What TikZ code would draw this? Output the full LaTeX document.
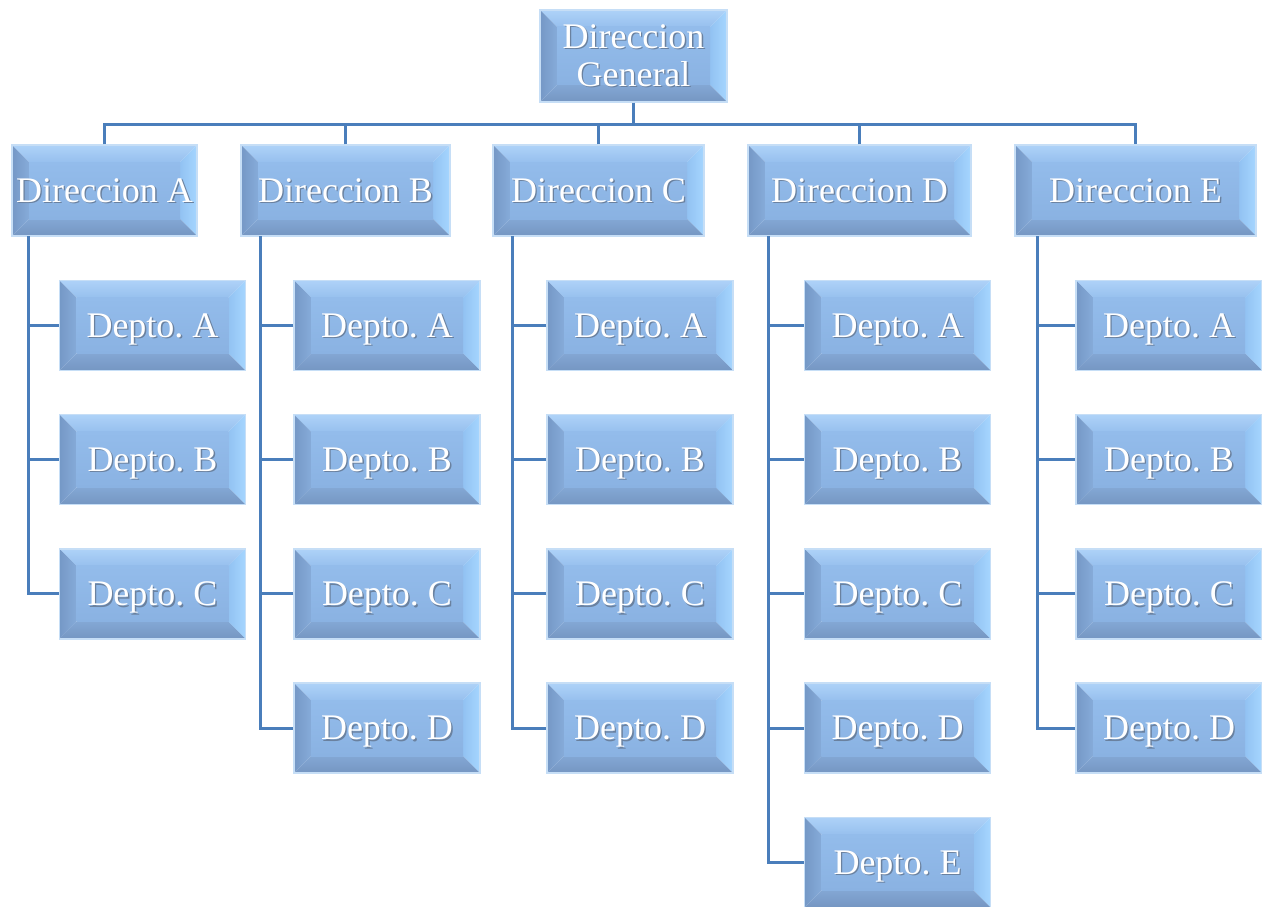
\documentclass[tikz,border=0pt]{standalone}
\usepackage{fontspec}
\setmainfont{Liberation Serif}
\frenchspacing
\definecolor{wire}{HTML}{4A7EBB}
\definecolor{rim}{HTML}{C6DEF6}
\definecolor{facetop}{HTML}{93BCEB}
\definecolor{facebot}{HTML}{8AB2E2}
\definecolor{bevtopA}{HTML}{AED2F8}
\definecolor{bevtopB}{HTML}{97C0EE}
\definecolor{bevrightA}{HTML}{A6D6FF}
\definecolor{bevrightB}{HTML}{92C2F2}
\definecolor{bevleftA}{HTML}{7598C6}
\definecolor{bevleftB}{HTML}{86ABD9}
\definecolor{bevbotA}{HTML}{7596C2}
\definecolor{bevbotB}{HTML}{83A7D4}
\definecolor{txtshadow}{HTML}{6A819F}
% white lettering with a soft drop shadow
\newcommand\shtxt[1]{\makebox[0pt][l]{\hspace{1.4pt}\raisebox{-1.4pt}{\color{txtshadow}#1}}{\color{white}#1}}
\tikzset{
  bevbox/.style={
    draw=rim, line width=1.5pt, inner sep=0pt, align=center,
    font=\fontsize{36}{38}\selectfont,
    path picture={
      \coordinate (pnw) at (path picture bounding box.north west);
      \coordinate (pne) at (path picture bounding box.north east);
      \coordinate (psw) at (path picture bounding box.south west);
      \coordinate (pse) at (path picture bounding box.south east);
      \coordinate (inw) at ([xshift=17pt,yshift=-17pt]pnw);
      \coordinate (ine) at ([xshift=-17pt,yshift=-17pt]pne);
      \coordinate (isw) at ([xshift=17pt,yshift=17pt]psw);
      \coordinate (ise) at ([xshift=-17pt,yshift=17pt]pse);
      \shade[top color=bevtopA, bottom color=bevtopB] (pnw) -- (pne) -- (ine) -- (inw) -- cycle;
      \shade[left color=bevrightB, right color=bevrightA] (pne) -- (pse) -- (ise) -- (ine) -- cycle;
      \shade[top color=bevbotB, bottom color=bevbotA] (pse) -- (psw) -- (isw) -- (ise) -- cycle;
      \shade[left color=bevleftA, right color=bevleftB] (psw) -- (pnw) -- (inw) -- (isw) -- cycle;
      \shade[top color=facetop, bottom color=facebot] (inw) rectangle (ise);
    }},
  dirbox/.style={bevbox, minimum height=91pt, text depth=0pt},
  deptbox/.style={bevbox, minimum width=186pt, minimum height=90pt, text depth=0pt},
  link/.style={draw=wire, line width=3pt}
}
\begin{document}
\begin{tikzpicture}[x=1pt,y=-1pt]
\useasboundingbox (0,0) rectangle (1262,907);

% general management
\node[bevbox, minimum width=187pt, minimum height=92pt] (gen) at (633.5,56) {\shtxt{Direccion}\\\shtxt{General}};

% directorates
\node[dirbox, minimum width=185pt] (dA) at (104.5,190.5) {\shtxt{Direccion A}};
\node[dirbox, minimum width=209pt] (dB) at (345.5,190.5) {\shtxt{Direccion B}};
\node[dirbox, minimum width=211pt] (dC) at (598.5,190.5) {\shtxt{Direccion C}};
\node[dirbox, minimum width=223pt] (dD) at (859.5,190.5) {\shtxt{Direccion D}};
\node[dirbox, minimum width=241pt] (dE) at (1135.5,190.5) {\shtxt{Direccion E}};

% departments
\node[deptbox] (a1) at (152.5,325.5) {\shtxt{Depto. A}};
\node[deptbox] (a2) at (152.5,459.7) {\shtxt{Depto. B}};
\node[deptbox] (a3) at (152.5,593.9) {\shtxt{Depto. C}};

\node[deptbox] (b1) at (387,325.5) {\shtxt{Depto. A}};
\node[deptbox] (b2) at (387,459.7) {\shtxt{Depto. B}};
\node[deptbox] (b3) at (387,593.9) {\shtxt{Depto. C}};
\node[deptbox] (b4) at (387,728.1) {\shtxt{Depto. D}};

\node[deptbox] (c1) at (640,325.5) {\shtxt{Depto. A}};
\node[deptbox] (c2) at (640,459.7) {\shtxt{Depto. B}};
\node[deptbox] (c3) at (640,593.9) {\shtxt{Depto. C}};
\node[deptbox] (c4) at (640,728.1) {\shtxt{Depto. D}};

\node[deptbox] (d1) at (897.5,325.5) {\shtxt{Depto. A}};
\node[deptbox] (d2) at (897.5,459.7) {\shtxt{Depto. B}};
\node[deptbox] (d3) at (897.5,593.9) {\shtxt{Depto. C}};
\node[deptbox] (d4) at (897.5,728.1) {\shtxt{Depto. D}};
\node[deptbox] (d5) at (897.5,862.3) {\shtxt{Depto. E}};

\node[deptbox] (e1) at (1169,325.5) {\shtxt{Depto. A}};
\node[deptbox] (e2) at (1169,459.7) {\shtxt{Depto. B}};
\node[deptbox] (e3) at (1169,593.9) {\shtxt{Depto. C}};
\node[deptbox] (e4) at (1169,728.1) {\shtxt{Depto. D}};

% top bus
\coordinate (bus) at (0,124);
\draw[link] (gen.south) -- (gen.south |- bus);
\draw[link] (dA.north) -- (dA.north |- bus) -| (dE.north);
\draw[link] (dB.north) -- (dB.north |- bus);
\draw[link] (dC.north) -- (dC.north |- bus);
\draw[link] (dD.north) -- (dD.north |- bus);

% department spines
\coordinate (sA) at (28,236);
\coordinate (sB) at (260,236);
\coordinate (sC) at (512,236);
\coordinate (sD) at (768,236);
\coordinate (sE) at (1037,236);

\draw[link] (sA) |- (a3.west);
\draw[link] (a1.west) -- (a1.west -| sA);
\draw[link] (a2.west) -- (a2.west -| sA);

\draw[link] (sB) |- (b4.west);
\foreach \n in {b1,b2,b3} \draw[link] (\n.west) -- (\n.west -| sB);

\draw[link] (sC) |- (c4.west);
\foreach \n in {c1,c2,c3} \draw[link] (\n.west) -- (\n.west -| sC);

\draw[link] (sD) |- (d5.west);
\foreach \n in {d1,d2,d3,d4} \draw[link] (\n.west) -- (\n.west -| sD);

\draw[link] (sE) |- (e4.west);
\foreach \n in {e1,e2,e3} \draw[link] (\n.west) -- (\n.west -| sE);
\end{tikzpicture}
\end{document}
